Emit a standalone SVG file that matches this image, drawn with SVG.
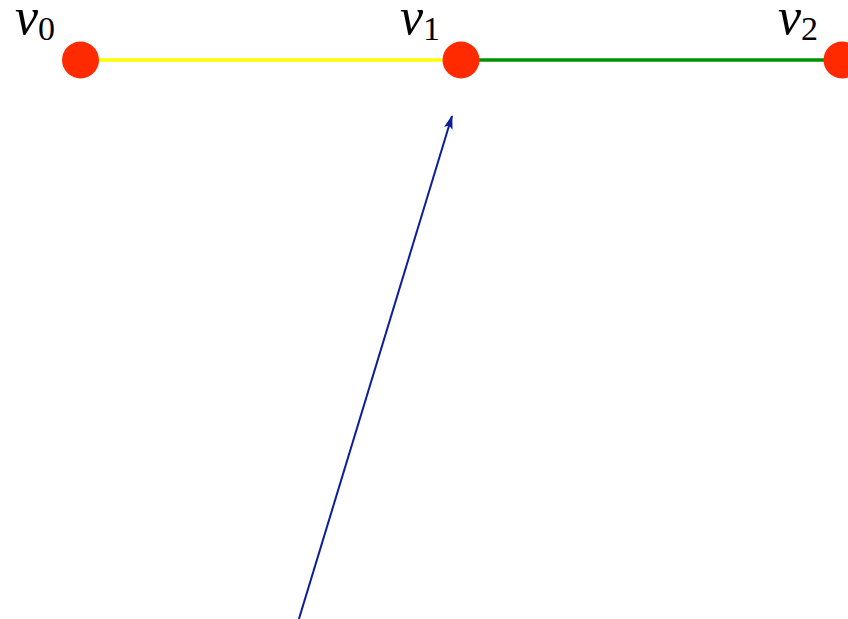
<svg xmlns="http://www.w3.org/2000/svg" width="848" height="619" viewBox="0 0 848 619">
<style>
.node{fill:#ff2a00}
.lbl{font-family:"Liberation Serif",serif;fill:#000}
.v{font-style:italic;font-size:52px}
.s{font-size:34px}
</style>
<defs>
<marker id="ah" markerWidth="14" markerHeight="10" refX="13" refY="5" orient="auto" markerUnits="userSpaceOnUse" viewBox="0 0 14 10">
<path d="M0,0.5 L14,5 L0,9.5 L3,5 z" fill="#0a1e9a"/>
</marker>
</defs>
<g id="edges">
<line x1="298" y1="622" x2="452" y2="116" stroke="#0a1e9a" stroke-width="2" marker-end="url(#ah)"/>
<line x1="80" y1="60" x2="461" y2="60" stroke="#ffff00" stroke-width="3.5"/>
<line x1="461" y1="60" x2="842" y2="60" stroke="#009000" stroke-width="3.5"/>
</g>
<g id="v0">
<circle class="node" cx="80.5" cy="60" r="18.5"/>
<text class="lbl" x="15" y="34"><tspan class="v">v</tspan><tspan class="s" dy="6">0</tspan></text>
</g>
<g id="v1">
<circle class="node" cx="461" cy="60" r="18.5"/>
<text class="lbl" x="400" y="34"><tspan class="v">v</tspan><tspan class="s" dy="6">1</tspan></text>
</g>
<g id="v2">
<circle class="node" cx="842" cy="60" r="18.5"/>
<text class="lbl" x="778" y="34"><tspan class="v">v</tspan><tspan class="s" dy="6">2</tspan></text>
</g>
</svg>
